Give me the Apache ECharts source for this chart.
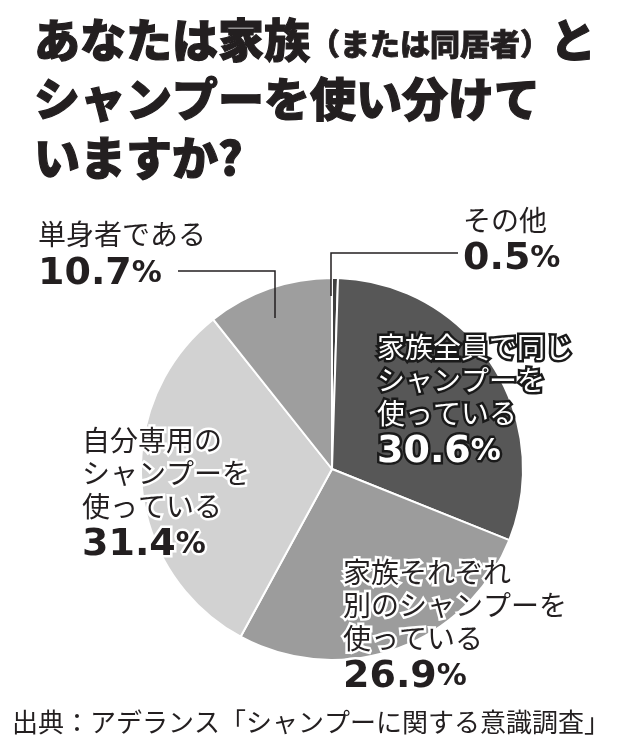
<!DOCTYPE html>
<html>
<head>
<meta charset="utf-8">
<script src="https://cdn.jsdelivr.net/npm/echarts@6/dist/echarts.min.js"></script>
<style>
html,body{margin:0;padding:0;background:#fff;}
#chart{width:624px;height:750px;}
</style>
</head>
<body>
<div id="chart"></div>
<script>
// ---- data ----
var categories = [
  'その他',
  '家族全員で同じ\nシャンプーを\n使っている',
  '家族それぞれ\n別のシャンプーを\n使っている',
  '自分専用の\nシャンプーを\n使っている',
  '単身者である'
];
var values = [0.5, 30.6, 26.9, 31.4, 10.7];
var titleLine1 = 'あなたは家族';
var titleParen = '（または同居者）';
var titleLine1End = 'と';
var titleLine2 = 'シャンプーを使い分けて';
var titleLine3 = 'いますか?';
var sourceText = '出典：アデランス「シャンプーに関する意識調査」';

// ---- styles / layout ----
var sliceColors = ['#3f3f3f', '#575757', '#9c9c9c', '#d2d2d2', '#9e9e9e'];
var labelKinds = ['plain', 'white', 'halo', 'halo', 'plain'];
var labelPos = [
  [463, 203.5],
  [377, 330.5],
  [343, 555.5],
  [82, 423.5],
  [38, 218]
];
var labelLines = {
  0: [[458, 253], [331, 253], [331, 296]],
  4: [[178, 271], [275, 271], [275, 318]]
};

var jp = '"Noto Sans CJK JP", "Noto Sans", sans-serif';
var num = '"DejaVu Sans", "Liberation Sans", sans-serif';

function richFor(kind) {
  var fill = '#231f20', border = 'transparent', bw = 0;
  if (kind === 'white') { fill = '#ffffff'; border = '#1a1a1a'; bw = 5; }
  if (kind === 'halo') { fill = '#231f20'; border = '#ffffff'; bw = 5; }
  return {
    n: { fontFamily: jp, fontSize: 28, lineHeight: 33, color: fill, textBorderColor: border, textBorderWidth: bw },
    p: { fontFamily: num, fontSize: 38, fontWeight: 'bold', lineHeight: 46, color: fill, textBorderColor: border, textBorderWidth: bw },
    q: { fontFamily: num, fontSize: 30, fontWeight: 'bold', lineHeight: 46, color: fill, textBorderColor: border, textBorderWidth: bw }
  };
}

var sliceData = categories.map(function (c, i) {
  return { name: c, value: values[i], itemStyle: { color: sliceColors[i] } };
});
var labelData = categories.map(function (c, i) {
  return {
    name: c,
    value: values[i],
    label: { rich: richFor(labelKinds[i]) },
    labelLine: { show: !!labelLines[i] }
  };
});

var chart = echarts.init(document.getElementById('chart'), null, { renderer: 'canvas' });
chart.setOption({
  backgroundColor: '#ffffff',
  animation: false,
  title: [
    {
      text: '{a|' + titleLine1 + '}{b|' + titleParen + '}{a|' + titleLine1End + '}\n{a|' + titleLine2 + '}\n{a|' + titleLine3 + '}',
      left: 34, top: 10, padding: 0,
      textStyle: {
        rich: {
          a: { fontFamily: jp, fontSize: 46, fontWeight: 900, color: '#231f20', lineHeight: 59, textBorderColor: '#231f20', textBorderWidth: 1.2 },
          b: { fontFamily: jp, fontSize: 30, fontWeight: 900, color: '#231f20', lineHeight: 59, padding: [8, 0, 0, 0], textBorderColor: '#231f20', textBorderWidth: 0.8 }
        }
      }
    },
    {
      text: sourceText,
      left: 12, top: 708, padding: 0,
      textStyle: { fontFamily: jp, fontSize: 26, fontWeight: 'normal', color: '#231f20', lineHeight: 28 }
    }
  ],
  series: [
    {
      type: 'pie',
      z: 2,
      center: [332, 469],
      radius: 191,
      startAngle: 90,
      clockwise: true,
      itemStyle: { borderColor: '#ffffff', borderWidth: 2 },
      label: { show: false },
      labelLine: { show: false },
      emphasis: { disabled: true },
      data: sliceData
    },
    {
      type: 'pie',
      z: 4,
      center: [332, 469],
      radius: 191,
      startAngle: 90,
      clockwise: true,
      silent: true,
      avoidLabelOverlap: false,
      itemStyle: { color: 'rgba(0,0,0,0)', borderWidth: 0 },
      label: {
        show: true,
        position: 'outside',
        formatter: function (p) { return '{n|' + p.name + '}\n{p|' + p.value.toFixed(1) + '}{q|%}'; }
      },
      labelLine: { show: true, smooth: false, lineStyle: { color: '#231f20', width: 1.5 } },
      labelLayout: function (params) {
        var i = params.dataIndex;
        var o = { x: labelPos[i][0], y: labelPos[i][1], align: 'left', verticalAlign: 'top' };
        if (labelLines[i]) o.labelLinePoints = labelLines[i];
        return o;
      },
      emphasis: { disabled: true },
      data: labelData
    }
  ]
});
</script>
</body>
</html>
